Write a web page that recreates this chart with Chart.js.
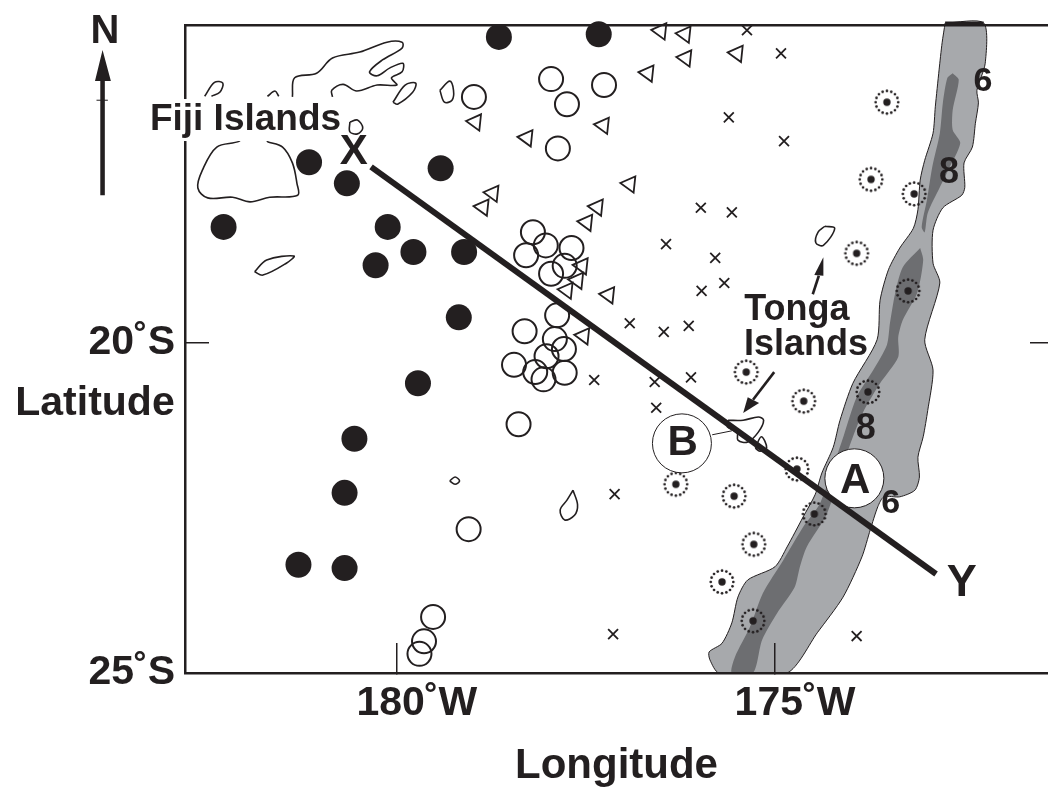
<!DOCTYPE html>
<html>
<head>
<meta charset="utf-8">
<title>Tonga map</title>
<script src="https://cdn.jsdelivr.net/npm/chart.js@4"></script>
<style>
    body { margin: 0; background: #fff; }
</style>
</head>
<body>
<canvas id="mapChart" width="1048" height="788"></canvas>
<script>
// all positions are degrees west / degrees south
const lonMin = 171.39, lonMax = 182.80, latMin = 15.18, latMax = 25;
const lonTicks = [180, 175];
const lonTickLabels = ["180˚W", "175˚W"];
const latTicks = [20, 25];
const latTickLabels = ["20˚S", "25˚S"];

const solidLon = [178.65, 177.33, 181.16, 180.66, 179.42, 182.29, 180.12, 179.78, 180.28, 179.11, 179.18, 179.72, 180.56, 180.69, 181.30, 180.69];
const solidLat = [15.36, 15.32, 17.26, 17.58, 17.35, 18.24, 18.24, 18.62, 18.82, 18.62, 19.61, 20.61, 21.45, 22.27, 23.36, 23.41];

const openLon = [177.96, 177.75, 177.26, 178.98, 177.87, 178.20, 178.03, 177.69, 178.29, 177.78, 177.96, 177.88, 178.31, 177.91, 177.79, 178.02, 178.45, 178.17, 178.06, 177.78, 178.39, 179.05, 179.52, 179.64, 179.70];
const openLat = [16.00, 16.38, 16.09, 16.27, 17.05, 18.32, 18.52, 18.56, 18.67, 18.83, 18.95, 19.58, 19.82, 19.94, 20.09, 20.20, 20.33, 20.44, 20.55, 20.45, 21.23, 22.82, 24.15, 24.52, 24.71];

const triLon = [176.51, 176.19, 176.18, 176.68, 175.50, 178.96, 178.28, 177.27, 176.92, 178.73, 178.86, 177.35, 177.49, 177.55, 177.61, 177.75, 177.20, 177.53];
const triLat = [15.27, 15.32, 15.68, 15.91, 15.61, 16.65, 16.89, 16.70, 17.59, 17.73, 17.94, 17.94, 18.17, 18.83, 19.05, 19.20, 19.27, 19.89];

const crossLon = [175.37, 174.92, 175.61, 174.88, 175.98, 175.57, 176.44, 175.79, 175.67, 175.97, 176.92, 176.47, 176.14, 177.39, 176.59, 176.11, 176.57, 177.12, 177.14, 173.92];
const crossLat = [15.26, 15.61, 16.58, 16.94, 17.95, 18.02, 18.50, 18.71, 19.09, 19.21, 19.70, 19.83, 19.74, 20.56, 20.59, 20.52, 20.98, 22.29, 24.41, 24.44];

const ringLon = [173.52, 173.73, 173.16, 173.92, 173.24, 175.38, 174.62, 173.77, 174.71, 176.31, 175.54, 174.48, 175.28, 175.70, 175.29];
const ringLat = [16.35, 17.52, 17.74, 18.64, 19.21, 20.44, 20.88, 20.74, 21.91, 22.14, 22.32, 22.59, 23.05, 23.62, 24.21];

const ridgeLon = [172.75, 172.79, 172.83, 172.88, 172.91, 173.02, 173.08, 173.11, 173.17, 173.35, 173.50, 173.61, 173.65, 173.97, 174.14, 174.23, 174.38, 174.47, 174.63, 174.84, 175.00, 175.36, 175.49, 175.57, 175.70, 175.87, 175.86, 175.74, 174.84, 174.44, 174.10, 173.85, 173.74, 173.64, 173.56, 173.35, 173.15, 173.09, 173.11, 173.04, 172.98, 172.91, 173.02, 172.82, 172.91, 172.91, 172.78, 172.53, 172.49, 172.50, 172.39, 172.35, 172.31, 172.33, 172.22, 172.24, 172.75];
const ridgeLat = [15.15, 15.45, 15.86, 16.42, 16.82, 17.23, 17.53, 17.98, 18.26, 18.56, 18.89, 19.35, 19.95, 20.61, 21.17, 21.58, 21.97, 22.30, 22.64, 23.09, 23.39, 23.59, 23.85, 24.24, 24.55, 24.68, 24.80, 25.00, 25.00, 24.39, 23.85, 23.24, 22.83, 22.48, 22.33, 22.33, 22.23, 22.03, 21.73, 21.42, 21.02, 20.41, 19.95, 19.09, 18.79, 18.29, 17.95, 17.76, 17.64, 17.27, 17.03, 16.67, 16.36, 16.17, 15.76, 15.15, 15.15];
const ridgeCapLon = [172.75, 172.24];
const ridgeCapLat = [15.15, 15.15];

const deepNorthLon = [172.65, 172.57, 172.65, 172.65, 172.55, 172.71, 172.82, 172.98, 173.02, 173.06, 172.99, 172.92, 172.82, 172.78, 172.72, 172.65];
const deepNorthLat = [15.91, 16.01, 16.47, 16.77, 16.97, 17.38, 17.64, 18.03, 18.32, 18.24, 17.83, 17.33, 16.82, 16.36, 15.98, 15.91];

const deepSouthLon = [173.08, 173.04, 173.12, 173.31, 173.37, 173.37, 173.61, 173.84, 174.01, 174.31, 174.58, 174.67, 174.74, 174.97, 175.17, 175.29, 175.57, 175.53, 175.33, 175.16, 174.89, 174.63, 174.40, 174.11, 173.92, 173.70, 173.52, 173.48, 173.41, 173.31, 173.08];
const deepSouthLat = [18.56, 18.74, 19.24, 19.65, 19.91, 20.21, 20.61, 21.06, 21.55, 22.58, 23.09, 23.39, 23.70, 24.09, 24.50, 25.00, 25.00, 24.76, 24.30, 23.79, 23.29, 22.79, 22.42, 21.47, 20.82, 20.41, 20.03, 19.70, 19.24, 18.85, 18.56];

const islandLons = [
    [181.71, 181.51, 181.38, 181.32, 181.31, 181.68, 181.94, 182.17, 182.50, 182.63, 182.57, 182.38, 182.08, 182.01, 181.73, 181.71],
    [181.38, 181.35, 181.06, 180.85, 180.49, 180.13, 179.93, 179.93, 180.19, 180.36, 180.26, 180.09, 179.92, 179.93, 180.07, 180.00, 180.26, 180.53, 180.71, 180.86, 180.85],
    [180.05, 179.89, 179.75, 179.79, 179.99, 180.05],
    [182.54, 182.41, 182.30, 182.34, 182.45],
    [181.71, 181.61, 181.56],
    [180.62, 180.52, 180.45, 180.52, 180.62, 180.62],
    [181.88, 181.72, 181.36, 181.46, 181.77, 181.88],
    [179.43, 179.30, 179.25, 179.27, 179.37, 179.43],
    [179.30, 179.23, 179.17, 179.23, 179.30],
    [177.67, 177.61, 177.65, 177.78, 177.84, 177.75, 177.67],
    [174.34, 174.21, 174.36, 174.46, 174.43, 174.34],
    [175.62, 175.42, 175.22, 175.15, 175.22, 175.36, 175.49, 175.50, 175.63, 175.62],
    [175.26, 175.18, 175.11, 175.20, 175.26]
];
const islandLats = [
    [16.95, 17.03, 17.27, 17.58, 17.76, 17.79, 17.86, 17.79, 17.80, 17.65, 17.38, 17.03, 16.94, 16.83, 16.83, 16.95],
    [16.27, 15.98, 15.91, 15.68, 15.59, 15.44, 15.44, 15.53, 15.71, 15.89, 15.95, 15.83, 15.76, 15.89, 15.98, 16.09, 16.09, 16.18, 16.08, 16.17, 16.27],
    [16.35, 16.09, 16.06, 16.20, 16.38, 16.35],
    [16.26, 16.05, 16.06, 16.20, 16.26],
    [16.26, 16.18, 16.26],
    [16.65, 16.62, 16.74, 16.83, 16.80, 16.65],
    [18.92, 18.74, 18.68, 18.79, 18.97, 18.92],
    [16.17, 16.03, 16.17, 16.32, 16.35, 16.17],
    [22.09, 22.03, 22.09, 22.14, 22.09],
    [22.23, 22.45, 22.61, 22.68, 22.53, 22.38, 22.23],
    [18.23, 18.26, 18.52, 18.48, 18.32, 18.23],
    [21.17, 21.17, 21.12, 21.17, 21.35, 21.50, 21.47, 21.36, 21.27, 21.17],
    [21.59, 21.42, 21.59, 21.64, 21.59]
];

const sectionLon = [180.34, 172.87];
const sectionLat = [17.33, 23.50];
const markerLon = [173.95, 176.23];
const markerLat = [22.05, 21.52];
const leaderLon = [175.83, 175.57];
const leaderLat = [21.39, 21.33];

const northArrowLon = [183.89, 183.78, 183.86, 183.86, 183.92, 183.92, 183.99, 183.89];
const northArrowLat = [15.56, 16.03, 16.03, 17.76, 17.76, 16.03, 16.03, 15.56];
const northTickLon = [183.97, 183.82];
const northTickLat = [16.32, 16.32];

const tongaStemALon = [174.50, 174.42];
const tongaStemALat = [19.26, 18.98];
const tongaHeadALon = [174.36, 174.48, 174.36, 174.36];
const tongaHeadALat = [18.70, 18.97, 18.98, 18.70];
const tongaStemBLon = [175.01, 175.29];
const tongaStemBLat = [20.44, 20.86];
const tongaHeadBLon = [175.42, 175.36, 175.21, 175.42];
const tongaHeadBLat = [21.06, 20.82, 20.91, 21.06];

const labelText = ["Fiji Islands", "X", "N", "Tonga", "Islands", "A", "B", "Y", "6", "8", "8", "6", "Latitude"];
const labelLon = [182.00, 180.57, 183.86, 174.71, 174.59, 173.94, 176.22, 172.53, 172.25, 172.70, 173.80, 173.47, 183.99];
const labelLat = [16.62, 17.11, 15.28, 19.50, 20.03, 22.09, 21.52, 23.64, 16.04, 17.43, 21.31, 22.43, 20.92];
const labelSize = [37, 42, 40, 36, 36, 42, 42, 45, 34, 36, 36, 34, 41];

const ink = "#231f20";

function toPoints(lons, lats) {
    return lons.map((lon, i) => ({ x: lon, y: lats[i] }));
}

function ringImage() {
    const c = document.createElement("canvas");
    c.width = 30;
    c.height = 30;
    const g = c.getContext("2d");
    g.fillStyle = ink;
    for (let i = 0; i < 16; i++) {
        const a = i / 16 * Math.PI * 2;
        g.beginPath();
        g.arc(15 + 11.3 * Math.cos(a), 15 + 11.3 * Math.sin(a), 1.35, 0, Math.PI * 2);
        g.fill();
    }
    g.beginPath();
    g.arc(15, 15, 3.7, 0, Math.PI * 2);
    g.fill();
    return c;
}

function shape(lons, lats, color, edge, width = 1) {
    return {
        data: toPoints(lons, lats), showLine: true, fill: "shape", backgroundColor: color,
        borderColor: edge, borderWidth: width, pointRadius: 0, clip: false
    };
}

function line(lons, lats, width, tension = 0) {
    return {
        data: toPoints(lons, lats), showLine: true, fill: false, borderColor: ink,
        borderWidth: width, pointRadius: 0, tension: tension, clip: false
    };
}

function marks(lons, lats, opts) {
    return Object.assign({ data: toPoints(lons, lats), showLine: false, clip: false }, opts);
}

// listed bottom to top, chart.js paints the first dataset last so it gets reversed
let datasets = [
    Object.assign(shape(ridgeLon, ridgeLat, "#a7a9ac", ink), { tension: 0.25 }),
    line(ridgeCapLon, ridgeCapLat, 3),
    Object.assign(shape(deepNorthLon, deepNorthLat, "#6d6e71", "#6d6e71", 0), { tension: 0.25 }),
    Object.assign(shape(deepSouthLon, deepSouthLat, "#6d6e71", "#6d6e71", 0), { tension: 0.25 })
];
islandLons.forEach((lons, i) => datasets.push(line(lons, islandLats[i], 1.6, 0.35)));
datasets.push(
    marks(solidLon, solidLat, { pointRadius: 13, pointBackgroundColor: ink, pointBorderWidth: 0 }),
    marks(openLon, openLat, { pointRadius: 12, pointBackgroundColor: "rgba(0,0,0,0)", pointBorderColor: ink, pointBorderWidth: 2 }),
    marks(triLon, triLat, { pointStyle: "triangle", pointRotation: -84, pointRadius: 9.5, pointBackgroundColor: "rgba(0,0,0,0)", pointBorderColor: ink, pointBorderWidth: 1.8 }),
    marks(crossLon, crossLat, { pointStyle: "crossRot", pointRadius: 7, pointBorderColor: ink, pointBorderWidth: 1.8 }),
    marks(ringLon, ringLat, { pointStyle: ringImage(), pointRadius: 15 }),
    line(leaderLon, leaderLat, 1),
    marks(markerLon, markerLat, { pointRadius: 29.5, pointBackgroundColor: "#fff", pointBorderColor: ink, pointBorderWidth: 1 }),
    line(sectionLon, sectionLat, 6),
    line(northTickLon, northTickLat, 1),
    line(tongaStemALon, tongaStemALat, 2.6),
    shape(tongaHeadALon, tongaHeadALat, ink, ink, 0),
    line(tongaStemBLon, tongaStemBLat, 2.6),
    shape(tongaHeadBLon, tongaHeadBLat, ink, ink, 0)
);
datasets.reverse();

const mapLabels = {
    id: "mapLabels",
    afterDraw(chart) {
        const ctx = chart.ctx;
        const x = chart.scales.x, y = chart.scales.y;
        ctx.save();

        // north arrow is outside the plot box, the filler would clip it away
        ctx.fillStyle = ink;
        ctx.beginPath();
        northArrowLon.forEach((lon, i) => ctx.lineTo(x.getPixelForValue(lon), y.getPixelForValue(northArrowLat[i])));
        ctx.fill();

        ctx.textAlign = "center";
        ctx.textBaseline = "middle";
        labelText.forEach((text, i) => {
            const px = x.getPixelForValue(labelLon[i]);
            const py = y.getPixelForValue(labelLat[i]);
            ctx.font = "bold " + labelSize[i] + "px 'Liberation Sans'";
            if (text === "Fiji Islands") {
                // the name sits on a white patch that cuts the frame and the coast
                const w = ctx.measureText(text).width;
                ctx.fillStyle = "#fff";
                ctx.fillRect(px - w / 2 - 1, py - 21, w + 2, 42);
            }
            ctx.fillStyle = ink;
            ctx.fillText(text, px, py);
        });
        ctx.restore();
    }
};

const tickFont = { family: "'Liberation Sans'", size: 41, weight: "bold" };

new Chart(document.getElementById("mapChart"), {
    type: "scatter",
    data: { datasets: datasets },
    plugins: [mapLabels],
    options: {
        responsive: false,
        animation: false,
        layout: { padding: 0, autoPadding: false },
        plugins: { legend: { display: false }, tooltip: { enabled: false } },
        scales: {
            x: {
                position: "bottom", min: lonMin, max: lonMax, reverse: true,
                afterFit(axis) { axis.height = 115; axis.paddingLeft = 0; axis.paddingRight = 0; },
                afterBuildTicks(axis) { axis.ticks = lonTicks.map(v => ({ value: v })); },
                border: { color: ink, width: 2.5, z: 1 },
                grid: { drawOnChartArea: false, color: ink, lineWidth: 1.5, tickLength: -30, z: 1 },
                ticks: {
                    autoSkip: false, maxRotation: 0, font: tickFont, color: ink, padding: 36, labelOffset: 20,
                    callback: (v) => lonTickLabels[lonTicks.indexOf(v)]
                },
                title: { display: true, text: "Longitude", font: { family: "'Liberation Sans'", size: 42, weight: "bold" }, color: ink, padding: { top: 0, bottom: -4 } }
            },
            xTop: {
                position: "top", min: lonMin, max: lonMax, reverse: true,
                afterFit(axis) { axis.height = 25; },
                border: { color: ink, width: 2.5, z: 1 },
                grid: { display: false },
                ticks: { display: false }
            },
            y: {
                position: "left", min: latMin, max: latMax, reverse: true,
                // tick padding would otherwise push the plot top down
                afterFit(axis) { axis.width = 185; axis.paddingTop = 0; axis.paddingBottom = 0; },
                afterBuildTicks(axis) { axis.ticks = latTicks.map(v => ({ value: v })); },
                border: { color: ink, width: 2.5, z: 1 },
                grid: { drawOnChartArea: false, color: ink, lineWidth: 1.5, tickLength: -24, z: 1 },
                ticks: {
                    autoSkip: false, font: tickFont, color: ink, padding: 34,
                    callback: (v) => latTickLabels[latTicks.indexOf(v)]
                }
            },
            yRight: {
                position: "right", min: latMin, max: latMax, reverse: true,
                afterFit(axis) { axis.width = 0; },
                afterBuildTicks(axis) { axis.ticks = [{ value: latTicks[0] }]; },
                border: { display: false },
                grid: { drawOnChartArea: false, color: ink, lineWidth: 1.5, tickLength: -18 },
                ticks: { display: false }
            }
        }
    }
});
</script>
</body>
</html>
